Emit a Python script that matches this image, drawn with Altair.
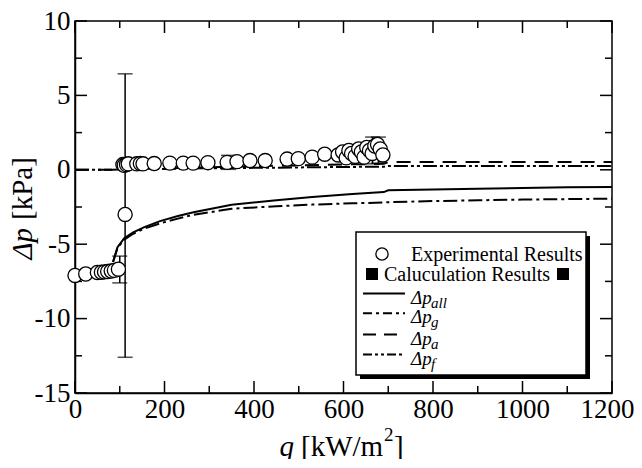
import altair as alt
import pandas as pd

W, H = 537, 372
FONT = "'Liberation Serif', 'Times New Roman', Times, serif"

# ---------------- data ----------------
exp_q = [0, 24, 50, 59, 66, 73, 81, 88, 97, 112,
         107, 110, 115, 119, 138, 146, 152, 177, 212, 242, 264, 297, 340, 362,
         391, 425, 474, 499, 530, 558, 588, 598, 606, 612, 618, 626, 634, 640,
         646, 652, 658, 664, 670, 676, 682, 688]
exp_dp = [-7.1, -7.0, -6.9, -6.88, -6.86, -6.84, -6.8, -6.76, -6.68, -3.0,
          0.35, 0.3, 0.35, 0.4, 0.4, 0.42, 0.4, 0.42, 0.45, 0.45, 0.45, 0.48, 0.5, 0.55,
          0.62, 0.62, 0.72, 0.75, 0.85, 1.05, 1.0, 1.2, 0.8, 1.3, 1.1, 0.9, 1.4, 1.2,
          0.85, 1.5, 1.3, 1.1, 1.6, 1.7, 1.4, 1.0]

err_q = [100, 112, 343, 665, 678]
err_lo = [-7.6, -12.6, 0.03, 0.4, 0.45]
err_hi = [-5.8, 6.45, 0.97, 2.2, 2.2]

calc_q = [85, 95, 110, 130, 155, 190, 230, 265, 350, 450, 530, 620, 690, 700,
          800, 900, 1000, 1100, 1200]
dp_all = [-6.2, -5.2, -4.6, -4.2, -3.85, -3.45, -3.1, -2.85, -2.35, -2.05, -1.83,
          -1.62, -1.5, -1.38, -1.32, -1.27, -1.22, -1.18, -1.15]
dp_g = [-6.2, -5.25, -4.7, -4.3, -3.95, -3.6, -3.28, -3.02, -2.62, -2.45, -2.34,
        -2.25, -2.2, -2.18, -2.1, -2.05, -2.0, -1.97, -1.94]

af_q = [0, 85, 100, 200, 300, 400, 500, 600, 690, 700, 1200]
dp_a = [0, 0, 0.03, 0.1, 0.17, 0.24, 0.3, 0.36, 0.4, 0.52, 0.52]
dp_f = [0, 0, 0.02, 0.06, 0.1, 0.13, 0.16, 0.19, 0.21, 0.26, 0.26]

x_major = [0, 200, 400, 600, 800, 1000, 1200]
x_minor = [100, 300, 500, 700, 900, 1100]
y_major = [-15, -10, -5, 0, 5, 10]
y_minor = [-12.5, -7.5, -2.5, 2.5, 7.5]

# ---------------- scales / axes ----------------
xs = alt.Scale(domain=[0, 1200], nice=False, zero=False)
ys = alt.Scale(domain=[-15, 10], nice=False, zero=False)
xaxis = alt.Axis(title=None, values=x_major, ticks=False, labelFont=FONT, labelFontSize=27,
                 labelColor="black", labelPadding=3, labelFlush=False, labelOverlap=False,
                 labelExpr="'' + datum.value",
                 labelOffset={"condition": {"test": "datum.value === 1200", "value": -5}, "value": 0},
                 domainColor="black", domainWidth=1.5, grid=False)
yaxis = alt.Axis(title=None, values=y_major, ticks=False, labelFont=FONT, labelFontSize=27,
                 labelColor="black", labelPadding=5, labelFlush=False, labelOverlap=False,
                 labelExpr="'' + datum.value",
                 domainColor="black", domainWidth=1.5, grid=False)
X = alt.X("q:Q", scale=xs, axis=xaxis)
Y = alt.Y("dp:Q", scale=ys, axis=yaxis)

layers = []

def xticks(vals, L):
    df = pd.DataFrame({"q": vals})
    b = alt.Chart(df).mark_rule(color="black", strokeWidth=1.5).encode(
        x=X, y=alt.value(H), y2=alt.value(H - L))
    t = alt.Chart(df).mark_rule(color="black", strokeWidth=1.5).encode(
        x=X, y=alt.value(0), y2=alt.value(L))
    return [b, t]

def yticks(vals, L):
    df = pd.DataFrame({"dp": vals})
    l = alt.Chart(df).mark_rule(color="black", strokeWidth=1.5).encode(
        y=Y, x=alt.value(0), x2=alt.value(L))
    r = alt.Chart(df).mark_rule(color="black", strokeWidth=1.5).encode(
        y=Y, x=alt.value(W), x2=alt.value(W - L))
    return [l, r]

layers += xticks(x_major, 12) + xticks(x_minor, 7) + yticks(y_major, 12) + yticks(y_minor, 7)

def curve(qs, vals, dash=None, width=2):
    df = pd.DataFrame({"q": qs, "dp": vals})
    kw = dict(color="black", strokeWidth=width, clip=True)
    if dash:
        kw["strokeDash"] = dash
    return alt.Chart(df).mark_line(**kw).encode(x=X, y=Y)

layers.append(curve(af_q, dp_a, [14, 9]))
layers.append(curve(af_q, dp_f, [14, 3, 3, 3, 3, 3]))
layers.append(curve(calc_q, dp_g, [14, 4, 3, 4]))
layers.append(curve(calc_q, dp_all, None))

edf = pd.DataFrame({"q": err_q, "lo": err_lo, "hi": err_hi})
layers.append(alt.Chart(edf).mark_rule(color="black", strokeWidth=1.5).encode(
    x=X, y=alt.Y("lo:Q", scale=ys, axis=yaxis), y2="hi:Q"))
layers.append(alt.Chart(edf).mark_tick(color="black", thickness=1.5, size=15, orient="horizontal").encode(
    x=X, y=alt.Y("lo:Q", scale=ys, axis=yaxis)))
layers.append(alt.Chart(edf).mark_tick(color="black", thickness=1.5, size=15, orient="horizontal").encode(
    x=X, y=alt.Y("hi:Q", scale=ys, axis=yaxis)))

pdf = pd.DataFrame({"q": exp_q, "dp": exp_dp})
layers.append(alt.Chart(pdf).mark_circle(fill="white", stroke="black", strokeWidth=1.3,
                                         size=200, opacity=1, fillOpacity=1).encode(x=X, y=Y))

# ---------------- legend (custom) ----------------
one = pd.DataFrame({"a": [0]})

def rect(x1, y1, x2, y2, fill, stroke=None):
    kw = dict(fill=fill)
    if stroke:
        kw.update(stroke=stroke, strokeWidth=1.5)
    return alt.Chart(one).mark_rect(**kw).encode(
        x=alt.value(x1), x2=alt.value(x2), y=alt.value(y1), y2=alt.value(y2))

def text(t, x, y, size=20, align="left", baseline="alphabetic", style="normal", angle=0):
    kw = dict(text=t, font=FONT, fontSize=size, align=align, baseline=baseline,
              fontStyle=style, color="black")
    if angle:
        kw["angle"] = angle
    return alt.Chart(one).mark_text(**kw).encode(x=alt.value(x), y=alt.value(y))

layers.append(rect(285, 215, 515, 358, "black"))
layers.append(rect(281, 211, 511, 354, "white", "black"))
layers.append(alt.Chart(one).mark_point(shape="circle", size=150, stroke="black", strokeWidth=1.3,
                                        filled=False, opacity=1).encode(x=alt.value(307), y=alt.value(233)))
layers.append(text("Experimental Results", 336, 240))
layers.append(alt.Chart(one).mark_square(size=144, color="black", opacity=1).encode(
    x=alt.value(297), y=alt.value(253)))
layers.append(text("Caluculation Results", 309, 260))
layers.append(alt.Chart(one).mark_square(size=144, color="black", opacity=1).encode(
    x=alt.value(488), y=alt.value(253)))

leg_rows = [("all", None, 272.5), ("g", [9, 4, 3, 4], 292.3), ("a", [13, 8], 313.5), ("f", [9, 3, 3, 3, 3, 3], 333.5)]
for sub, dash, ly in leg_rows:
    kw = dict(color="black", strokeWidth=2)
    if dash:
        kw["strokeDash"] = dash
    layers.append(alt.Chart(one).mark_rule(**kw).encode(
        x=alt.value(288), x2=alt.value(330), y=alt.value(ly)))
    layers.append(text("\u0394p", 336, ly + 10, size=19, style="italic"))
    layers.append(text(sub, 356, ly + 14, size=15, style="italic"))

# ---------------- axis titles ----------------
layers.append(text("\u0394p", -52, 207, size=29, align="right", baseline="middle", style="italic", angle=270))
layers.append(text("[kPa]", -52, 199, size=29, align="left", baseline="middle", angle=270))
layers.append(text("q", 219, 435, size=29, align="right", style="italic"))
layers.append(text("[kW/m", 226, 435, size=29, align="left"))
layers.append(text("2", 309, 420, size=19, align="left"))
layers.append(text("]", 319, 435, size=29, align="left"))

chart = alt.layer(*layers).properties(
    width=W, height=H,
    autosize=alt.AutoSizeParams(type="none"),
    padding={"left": 67, "top": 13, "right": 22, "bottom": 66},
    background="white",
).configure_view(stroke="black", strokeWidth=1.5)

chart.save("out.html", embed_options={"renderer": "svg", "actions": False})
